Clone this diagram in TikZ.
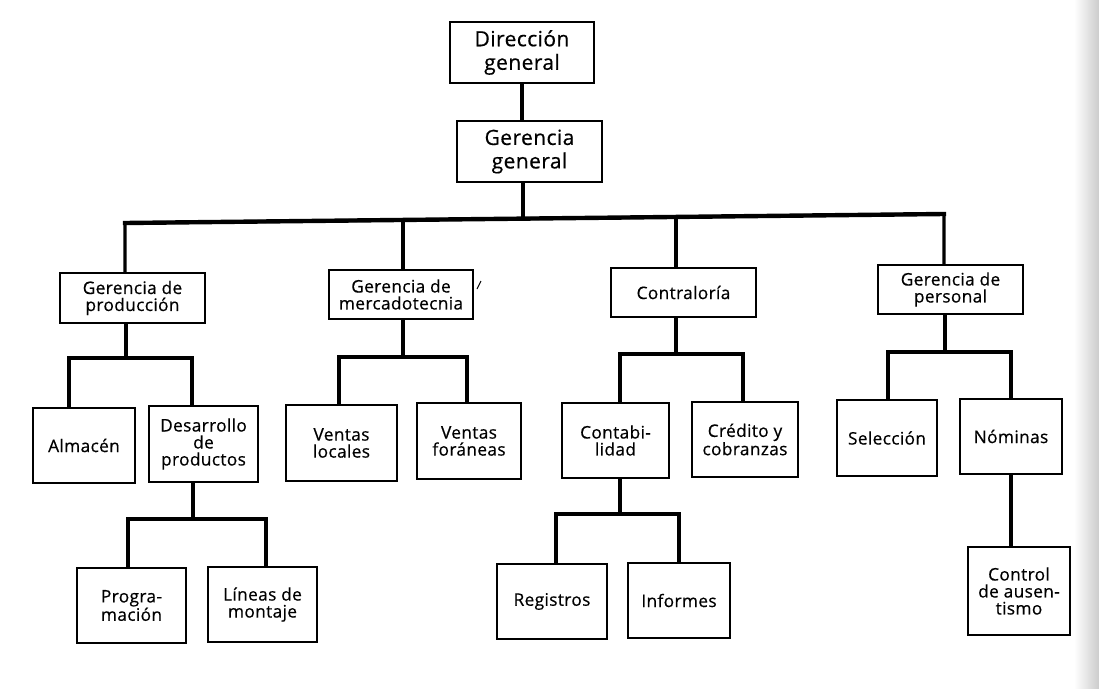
\documentclass[tikz,border=0pt]{standalone}
\usepackage{fontspec}
\newfontfamily\chartfont{Open Sans}[LetterSpace=2, FakeBold=0.5]
\begin{document}
\begin{tikzpicture}[x=1pt,y=-1pt,
  box/.style={draw, line width=1.5pt, inner sep=0pt, align=center,
    font=\chartfont\fontsize{17.3}{17}\selectfont},
  topbox/.style={box, font=\chartfont\fontsize{21}{23.5}\selectfont},
  stem/.style={line width=3.1pt, line join=miter},
  bar/.style={line width=4.4pt, line cap=rect}]
\useasboundingbox (0,0) rectangle (1099,688);
\shade[left color=white, right color=black!20] (1074,0) rectangle (1099,688);

% top
\node[topbox, minimum width=144pt, minimum height=61pt] (dg) at (522,52.5) {Dirección\\general};
\node[topbox, minimum width=145pt, minimum height=61pt] (gg) at (529.5,151.5) {Gerencia\\general};

% level 2
\node[box, minimum width=145pt, minimum height=50pt] (gp)  at (132.5,298)  {Gerencia de\\producción};
\node[box, minimum width=144pt, minimum height=49pt] (gm)  at (401,294.5)  {Gerencia de\\mercadotecnia};
\node[box, minimum width=145pt, minimum height=49pt] (co)  at (683.5,292.5){Contraloría};
\node[box, minimum width=145pt, minimum height=49pt] (gpe) at (950.5,289.5){Gerencia de\\personal};

% level 3
\node[box, minimum width=102pt, minimum height=75pt] (alm) at (84,445.5)   {Almacén};
\node[box, minimum width=109pt, minimum height=76pt] (des) at (203.5,444)  {Desarrollo\\de\\productos};
\node[box, minimum width=111pt, minimum height=76pt] (vl)  at (341.5,443)  {Ventas\\locales};
\node[box, minimum width=104pt, minimum height=76pt] (vf)  at (469,441)    {Ventas\\foráneas};
\node[box, minimum width=107pt, minimum height=75pt] (cont) at (615.5,440.5){Contabi-\\lidad};
\node[box, minimum width=106pt, minimum height=75pt] (cred) at (745,439.5) {Crédito y\\cobranzas};
\node[box, minimum width=100pt, minimum height=76pt] (sel) at (887,438)    {Selección};
\node[box, minimum width=102pt, minimum height=75pt] (nom) at (1011,436.5) {Nóminas};

% level 4
\node[box, minimum width=109pt, minimum height=75pt] (prog) at (131.5,605.5) {Progra-\\mación};
\node[box, minimum width=109pt, minimum height=75pt] (lin)  at (262.5,604.5) {Líneas de\\montaje};
\node[box, minimum width=110pt, minimum height=75pt] (reg)  at (552,601.5)   {Registros};
\node[box, minimum width=102pt, minimum height=75pt] (inf)  at (679,600.5)   {Informes};
\node[box, minimum width=102pt, minimum height=88pt] (ctl)  at (1019,591)    {Control\\de ausen-\\tismo};

% top connectors
\draw[stem] (dg.south) -- (dg.south |- gg.north);
\coordinate (b1) at (125,223);
\coordinate (b2) at (403,220);
\coordinate (t0) at (523,218.6);
\coordinate (b3) at (676,216.9);
\coordinate (b4) at (944,214);
\draw[stem] (t0 |- gg.south) -- (t0);
\draw[stem] (b1 |- gp.north) -- (b1) -- (b4) -- (b4 |- gpe.north);
\draw[bar] (b1) -- (b4);
\draw[stem] (b2) -- (b2 |- gm.north);
\draw[stem] (b3) -- (b3 |- co.north);

% produccion group
\coordinate (p0) at (126,358);
\coordinate (pa) at (69,358);
\coordinate (pb) at (192,358);
\draw[stem] (p0 |- gp.south) -- (p0);
\draw[stem] (pa |- alm.north) -- (pa) -- (pb) -- (pb |- des.north);
\draw[bar] (pa) -- (pb);

% desarrollo group
\coordinate (d0) at (193,519);
\coordinate (da) at (128,519);
\coordinate (db) at (266,519);
\draw[stem] (d0 |- des.south) -- (d0);
\draw[stem] (da |- prog.north) -- (da) -- (db) -- (db |- lin.north);
\draw[bar] (da) -- (db);

% mercadotecnia group
\coordinate (m0) at (403,357);
\coordinate (ma) at (339,357);
\coordinate (mb) at (467,357);
\draw[stem] (m0 |- gm.south) -- (m0);
\draw[stem] (ma |- vl.north) -- (ma) -- (mb) -- (mb |- vf.north);
\draw[bar] (ma) -- (mb);

% contraloria group
\coordinate (c0) at (676,354);
\coordinate (ca) at (620,354);
\coordinate (cb) at (743,354);
\draw[stem] (c0 |- co.south) -- (c0);
\draw[stem] (ca |- cont.north) -- (ca) -- (cb) -- (cb |- cred.north);
\draw[bar] (ca) -- (cb);

% contabilidad group
\coordinate (k0) at (620,514);
\coordinate (ka) at (556,514);
\coordinate (kb) at (679,514);
\draw[stem] (k0 |- cont.south) -- (k0);
\draw[stem] (ka |- reg.north) -- (ka) -- (kb) -- (kb |- inf.north);
\draw[bar] (ka) -- (kb);

% personal group
\coordinate (s0) at (945,352);
\coordinate (sa) at (888,352);
\coordinate (sb) at (1011,352);
\draw[stem] (s0 |- gpe.south) -- (s0);
\draw[stem] (sa |- sel.north) -- (sa) -- (sb) -- (sb |- nom.north);
\draw[bar] (sa) -- (sb);

% nominas to control
\draw[stem] (nom.south) -- (nom.south |- ctl.north);

% stray mark
\draw[line width=1pt] (477,289) -- (481,281);
\end{tikzpicture}
\end{document}
